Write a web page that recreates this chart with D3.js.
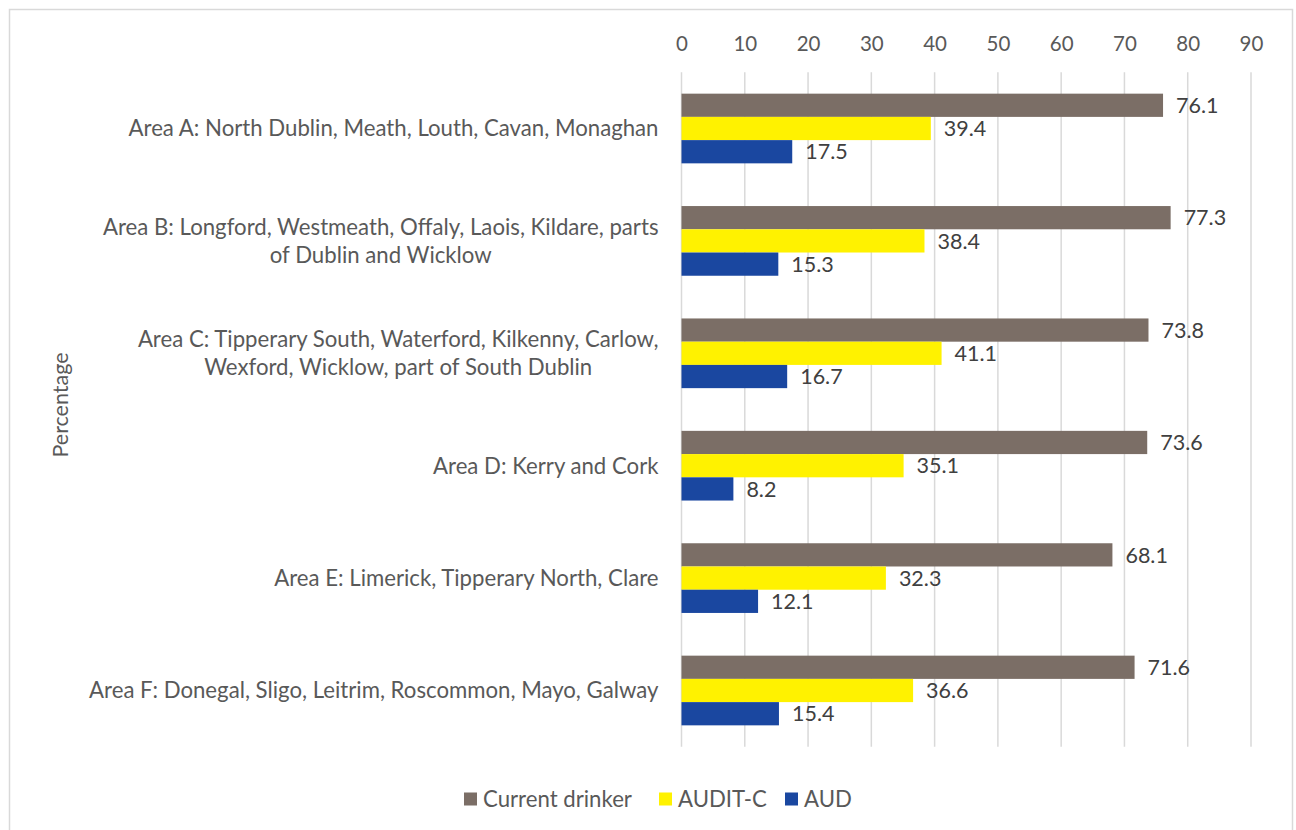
<!DOCTYPE html>
<html>
<head>
<meta charset="utf-8">
<script src="https://cdn.jsdelivr.net/npm/d3@7"></script>
<style>
  html, body { margin: 0; padding: 0; background: #ffffff; }
  svg { display: block; font-family: Lato, "Open Sans", sans-serif; }
</style>
</head>
<body>
<svg id="chart" width="1296" height="830"></svg>
<script>
// Drinking status by area (percentage)
const areas = [
  ["Area A: North Dublin, Meath, Louth, Cavan, Monaghan"],
  ["Area B: Longford, Westmeath, Offaly, Laois, Kildare, parts", "of Dublin and Wicklow"],
  ["Area C: Tipperary South, Waterford, Kilkenny, Carlow,", "Wexford, Wicklow, part of South Dublin"],
  ["Area D: Kerry and Cork"],
  ["Area E: Limerick, Tipperary North, Clare"],
  ["Area F: Donegal, Sligo, Leitrim, Roscommon, Mayo, Galway"]
];
const seriesNames = ["Current drinker", "AUDIT-C", "AUD"];
const currentDrinker = [76.1, 77.3, 73.8, 73.6, 68.1, 71.6];
const auditC = [39.4, 38.4, 41.1, 35.1, 32.3, 36.6];
const aud = [17.5, 15.3, 16.7, 8.2, 12.1, 15.4];
const xTicks = [0, 10, 20, 30, 40, 50, 60, 70, 80, 90];
const colors = ["#7b6e66", "#fff200", "#1a47a0"];

const series = [currentDrinker, auditC, aud];
const svg = d3.select("#chart");

const catFont = 22.2;
const valFont = 21.5;
const tickFont = 20.5;

// chart frame
svg.append("rect")
  .attr("x", 9.5).attr("y", 9.5)
  .attr("width", 1283).attr("height", 830)
  .attr("fill", "none").attr("stroke", "#d9d9d9").attr("stroke-width", 1.5);

const plot = { left: 681.5, right: 1251, top: 72.3, bottom: 746.7 };

const x = d3.scaleLinear().domain([0, 90]).range([plot.left, plot.right]);
const y = d3.scaleBand()
  .domain(d3.range(areas.length))
  .range([plot.top, plot.bottom])
  .paddingInner(0.38)
  .paddingOuter(0.19);
const ySub = d3.scaleBand()
  .domain(d3.range(series.length))
  .range([0, y.bandwidth()]);

// vertical gridlines
svg.append("g")
  .selectAll("line")
  .data(xTicks)
  .join("line")
  .attr("x1", d => x(d)).attr("x2", d => x(d))
  .attr("y1", plot.top).attr("y2", plot.bottom)
  .attr("stroke", "#d9d9d9").attr("stroke-width", 1.5);

// top value axis
const xAxis = d3.axisTop(x).tickValues(xTicks).tickSize(0).tickPadding(0);
const gx = svg.append("g")
  .attr("transform", `translate(0, 51)`)
  .call(xAxis);
gx.select(".domain").remove();
gx.selectAll("text")
  .attr("fill", "#595959")
  .attr("font-size", tickFont)
  .attr("font-family", "Lato, sans-serif");

// bars
const groups = svg.append("g")
  .selectAll("g")
  .data(areas.map((a, i) => i))
  .join("g")
  .attr("transform", i => `translate(0, ${y(i)})`);

groups.selectAll("rect")
  .data(i => series.map((s, k) => ({ k, v: s[i] })))
  .join("rect")
  .attr("x", x(0))
  .attr("y", d => ySub(d.k))
  .attr("width", d => x(d.v) - x(0))
  .attr("height", ySub.bandwidth())
  .attr("fill", d => colors[d.k]);

// value labels
groups.selectAll("text")
  .data(i => series.map((s, k) => ({ k, v: s[i] })))
  .join("text")
  .attr("x", d => x(d.v) + 13)
  .attr("y", d => ySub(d.k) + ySub.bandwidth() / 2)
  .attr("dy", "0.36em")
  .attr("fill", "#404040")
  .attr("font-size", valFont)
  .text(d => d.v.toFixed(1));

// category labels
const cat = svg.append("g")
  .selectAll("text")
  .data(areas)
  .join("text")
  .attr("fill", "#595959")
  .attr("font-size", catFont)
  .attr("text-anchor", "middle");

cat.each(function (lines, i) {
  const t = d3.select(this);
  const cy = y(i) + y.bandwidth() / 2;
  const lh = 28;
  // widest line sets the block width; block sits right-aligned next to the axis
  const tmp = svg.append("text").attr("font-size", catFont);
  let w = 0;
  lines.forEach(l => { tmp.text(l); w = Math.max(w, tmp.node().getComputedTextLength()); });
  tmp.remove();
  const cx = plot.left - 23 - w / 2;
  lines.forEach((l, j) => {
    t.append("tspan")
      .attr("x", cx)
      .attr("y", cy + (j - (lines.length - 1) / 2) * lh)
      .attr("dy", "0.36em")
      .text(l);
  });
});

// axis title
svg.append("text")
  .attr("transform", "translate(68, 405) rotate(-90)")
  .attr("text-anchor", "middle")
  .attr("fill", "#595959")
  .attr("font-size", 21.5)
  .text("Percentage");

// legend
const legendX = [464, 659, 785];
const leg = svg.append("g")
  .selectAll("g")
  .data(seriesNames)
  .join("g")
  .attr("transform", (d, i) => `translate(${legendX[i]}, 792.5)`);
leg.append("rect")
  .attr("width", 13).attr("height", 13)
  .attr("fill", (d, i) => colors[i]);
leg.append("text")
  .attr("x", 19).attr("y", 6.5).attr("dy", "0.36em")
  .attr("fill", "#595959")
  .attr("font-size", catFont)
  .text(d => d);
</script>
</body>
</html>
